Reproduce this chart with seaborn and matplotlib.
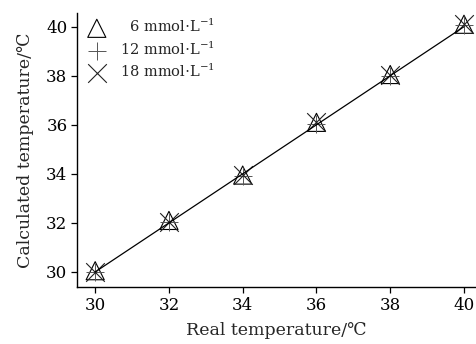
import matplotlib
matplotlib.use("Agg")
import matplotlib.pyplot as plt
import seaborn as sns
import pandas as pd

real_temp = [30, 32, 34, 36, 38, 40]
calc_6 = [30.05, 32.1, 33.95, 36.1, 38.05, 40.1]
calc_12 = [30.0, 32.05, 33.9, 36.05, 38.0, 40.05]
calc_18 = [30.0, 32.05, 33.95, 36.1, 38.05, 40.1]
labels = ["  6 mmol$\\cdot$L$^{-1}$", "12 mmol$\\cdot$L$^{-1}$", "18 mmol$\\cdot$L$^{-1}$"]
x_ticks = [30, 32, 34, 36, 38, 40]
y_ticks = [30, 32, 34, 36, 38, 40]

sns.set_style("ticks")
plt.rcParams['font.family'] = ['DejaVu Serif']
plt.rcParams['mathtext.fontset'] = 'dejavuserif'

fig = plt.figure(figsize=(4.76, 3.44), dpi=100)
ax = fig.add_axes([0.162, 0.166, 0.836, 0.797])

df = pd.DataFrame({"x": real_temp, "y": real_temp})
sns.lineplot(data=df, x="x", y="y", ax=ax, color="black", linewidth=0.9, legend=False)

series = [(calc_6, "^", labels[0]), (calc_12, "+", labels[1]), (calc_18, "x", labels[2])]
for vals, m, lab in series:
    d = pd.DataFrame({"x": real_temp, "y": vals})
    if m == "^":
        sns.scatterplot(data=d, x="x", y="y", ax=ax, marker=m, s=170,
                        facecolor="none", edgecolor="black", linewidth=0.8, label=lab)
    elif m == "+":
        sns.scatterplot(data=d, x="x", y="y", ax=ax, marker=m, s=180,
                        color="#555555", linewidth=0.7, label=lab)
    else:
        sns.scatterplot(data=d, x="x", y="y", ax=ax, marker=m, s=180,
                        color="#222222", linewidth=0.8, label=lab)

ax.set_xlim(29.51, 40.3)
ax.set_ylim(29.39, 40.57)
ax.set_xticks(x_ticks)
ax.set_yticks(y_ticks)
ax.tick_params(axis='both', labelsize=12, length=4, width=0.9, colors='black', pad=3)
for s in ["left", "bottom"]:
    ax.spines[s].set_linewidth(1.0)
    ax.spines[s].set_color("black")
sns.despine(ax=ax)
ax.set_xlabel("Real temperature/℃", fontsize=12.5, labelpad=6)
ax.set_ylabel("Calculated temperature/℃", fontsize=12.5, labelpad=9)

leg = ax.legend(loc="upper left", frameon=False, fontsize=10.5, handletextpad=0.6,
                borderaxespad=0.1, labelspacing=0.35, borderpad=0.25)

fig.savefig("out.png", dpi=100)
